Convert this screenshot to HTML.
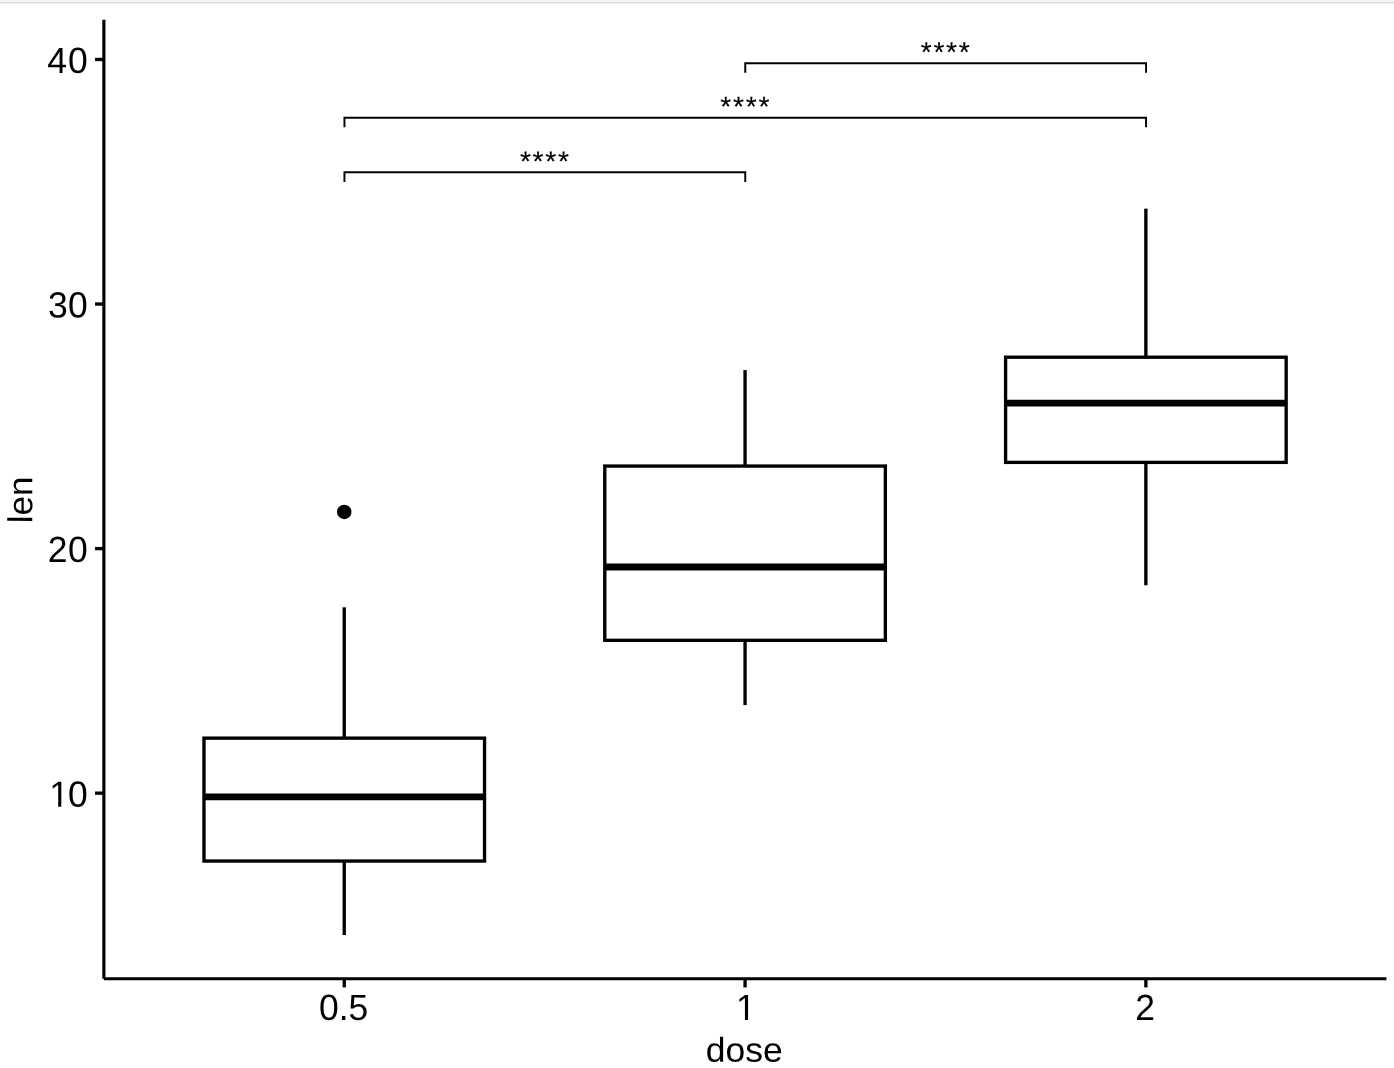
<!DOCTYPE html>
<html><head><meta charset="utf-8"><title>boxplot</title>
<style>
html,body{margin:0;padding:0;background:#fff;}
body{width:1394px;height:1068px;overflow:hidden;position:relative;font-family:"Liberation Sans",sans-serif;}
svg{position:absolute;left:0;top:0;display:block;will-change:transform;}
text{font-family:"Liberation Sans",sans-serif;fill:#000;text-rendering:geometricPrecision;}
.strip{position:absolute;left:0;width:1394px;height:1px;}
</style></head><body>
<div class="strip" style="top:0;background:#f6f0f5"></div>
<div class="strip" style="top:1px;background:#f8f2f7"></div>
<div class="strip" style="top:2px;background:#d9d9d9"></div>
<div class="strip" style="top:3px;background:#f3f3f3"></div>
<svg width="1394" height="1068" viewBox="0 0 1394 1068">

<g stroke="#000" fill="none" stroke-linecap="butt" stroke-linejoin="miter">
<line x1="344.25" y1="607.30" x2="344.25" y2="738.14" stroke-width="3.35"/>
<line x1="344.25" y1="861.04" x2="344.25" y2="935.02" stroke-width="3.35"/>
<rect x="203.97" y="738.14" width="280.57" height="122.90" fill="#fff" stroke-width="3.35"/>
<line x1="203.97" y1="796.84" x2="484.53" y2="796.84" stroke-width="6.9"/>
<line x1="745.06" y1="370.06" x2="745.06" y2="466.06" stroke-width="3.35"/>
<line x1="745.06" y1="640.31" x2="745.06" y2="705.12" stroke-width="3.35"/>
<rect x="604.78" y="466.06" width="280.57" height="174.26" fill="#fff" stroke-width="3.35"/>
<line x1="604.78" y1="566.94" x2="885.34" y2="566.94" stroke-width="6.9"/>
<line x1="1145.87" y1="208.65" x2="1145.87" y2="357.22" stroke-width="3.35"/>
<line x1="1145.87" y1="462.39" x2="1145.87" y2="585.29" stroke-width="3.35"/>
<rect x="1005.59" y="357.22" width="280.57" height="105.17" fill="#fff" stroke-width="3.35"/>
<line x1="1005.59" y1="403.08" x2="1286.15" y2="403.08" stroke-width="6.9"/>
</g>
<circle cx="344.25" cy="511.91" r="7.25" fill="#000"/>
<g stroke="#000" fill="none" stroke-width="1.95" stroke-linejoin="miter">
<path d="M344.45 181.90V172.30H745.26V181.90"/>
<path d="M344.45 127.30V117.70H1146.07V127.30"/>
<path d="M745.26 72.75V63.15H1146.07V72.75"/>
</g>
<text transform="matrix(1 0.0005 0 1 519.89 170.90)" font-size="28.3" letter-spacing="1.69" stroke="#000" stroke-width="0.15">****</text>
<text transform="matrix(1 0.0005 0 1 720.30 116.30)" font-size="28.3" letter-spacing="1.69" stroke="#000" stroke-width="0.15">****</text>
<text transform="matrix(1 0.0005 0 1 920.70 61.75)" font-size="28.3" letter-spacing="1.69" stroke="#000" stroke-width="0.15">****</text>
<g stroke="#000" fill="none" stroke-linecap="butt">
<line x1="103.88" y1="19.75" x2="103.88" y2="978.7" stroke-width="3.15"/>
<line x1="103.88" y1="978.7" x2="1386.4" y2="978.7" stroke-width="3.15"/>
<line x1="95.05" y1="793.17" x2="103.88" y2="793.17" stroke-width="3.35"/>
<line x1="95.05" y1="548.60" x2="103.88" y2="548.60" stroke-width="3.35"/>
<line x1="95.05" y1="304.03" x2="103.88" y2="304.03" stroke-width="3.35"/>
<line x1="95.05" y1="59.46" x2="103.88" y2="59.46" stroke-width="3.35"/>
<line x1="344.25" y1="978.7" x2="344.25" y2="987.4" stroke-width="3.35"/>
<line x1="745.06" y1="978.7" x2="745.06" y2="987.4" stroke-width="3.35"/>
<line x1="1145.87" y1="978.7" x2="1145.87" y2="987.4" stroke-width="3.35"/>
</g>
<text transform="matrix(1 0.0005 0 1.028 48.21 562.10)" x="-0.45 19.74" font-size="35.5">20</text>
<text transform="matrix(1 0.0005 0 1.028 48.21 317.53)" x="-0.10 19.74" font-size="35.5">30</text>
<text transform="matrix(1 0.0005 0 1.028 48.21 72.96)" x="-0.95 19.74" font-size="35.5">40</text>
<clipPath id="one1"><rect x="-2" y="-40" width="60" height="37.27"/><rect x="8.93" y="-3.73" width="3.14" height="5.73"/><rect x="19.34" y="-3.73" width="40" height="5.73"/></clipPath><g transform="translate(49.21 806.73)" clip-path="url(#one1)"><text transform="matrix(1 0.0005 0 1.028 0 0)" x="0 18.74" font-size="35.5">10</text></g>
<text transform="matrix(1 0.0005 0 1.028 318.98 1020.05)" x="0.00 19.74 29.61" font-size="35.5">0.5</text>
<clipPath id="one2"><rect x="-2" y="-40" width="60" height="36.95"/><rect x="8.93" y="-4.05" width="3.14" height="6.05"/></clipPath><g transform="translate(735.99 1020.05)" clip-path="url(#one2)"><text transform="matrix(1 0.0005 0 1.028 0 0)" font-size="35.5">1</text></g>
<text transform="matrix(1 0.0005 0 1.028 1135.20 1020.05)" x="0.00" font-size="35.5">2</text>
<text transform="matrix(1 0.0005 0 0.975 744.3 1061.7)" font-size="35.5" text-anchor="middle">dose</text>
<text transform="translate(32.2 499.9) rotate(-89.97) scale(0.985 0.975)" font-size="35.5" text-anchor="middle">len</text>
</svg></body></html>
